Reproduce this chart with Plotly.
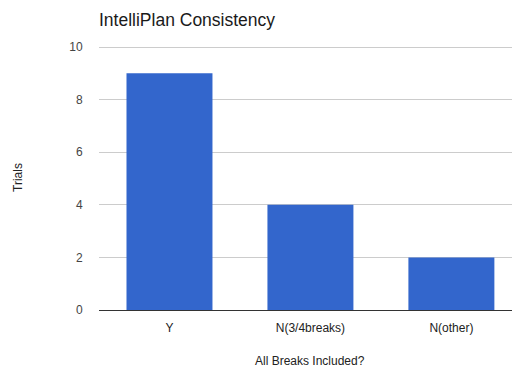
import plotly.graph_objects as go

categories = ["Y", "N(3/4breaks)", "N(other)"]
trials = [9, 4, 2]
y_ticks = [0, 2, 4, 6, 8, 10]

FONT = "Liberation Sans, Arial, sans-serif"

fig = go.Figure(
    go.Bar(
        x=categories,
        y=trials,
        marker=dict(color="#3366CC", line=dict(width=0)),
        width=0.61,
    )
)

fig.update_layout(
    template="none",
    width=512,
    height=369,
    margin=dict(l=99, r=0, t=46, b=59),
    paper_bgcolor="white",
    plot_bgcolor="white",
    font=dict(family=FONT, color="#333333", size=12),
    showlegend=False,
    title=dict(
        text="IntelliPlan Consistency",
        x=99 / 512,
        xanchor="left",
        y=1 - 20 / 369,
        yanchor="middle",
        font=dict(family=FONT, size=17.5, color="#1a1a1a"),
    ),
)

fig.update_xaxes(
    range=[-0.5, 2.43],
    showgrid=False,
    showline=False,
    zeroline=False,
    ticks="outside",
    ticklen=7,
    tickcolor="rgba(0,0,0,0)",
    tickfont=dict(size=12, color="#222222"),
)

fig.update_yaxes(
    range=[0, 10.04],
    tickvals=y_ticks,
    showgrid=True,
    gridcolor="#CCCCCC",
    gridwidth=1,
    zeroline=True,
    zerolinecolor="#333333",
    zerolinewidth=1,
    showline=False,
    ticks="outside",
    ticklen=13,
    tickcolor="rgba(0,0,0,0)",
    tickfont=dict(size=12, color="#444444"),
)

# axis titles placed as annotations
fig.add_annotation(
    text="All Breaks Included?",
    xref="x", x=1,
    yref="paper", y=-(361 - 310) / 264,
    yanchor="middle",
    showarrow=False,
    font=dict(family=FONT, size=12, color="#222222"),
)
fig.add_annotation(
    text="Trials",
    xref="paper", x=-(99 - 18) / 413,
    yref="paper", y=0.5,
    xanchor="center",
    textangle=-90,
    showarrow=False,
    font=dict(family=FONT, size=12, color="#222222"),
)

fig.write_html("out.html")
